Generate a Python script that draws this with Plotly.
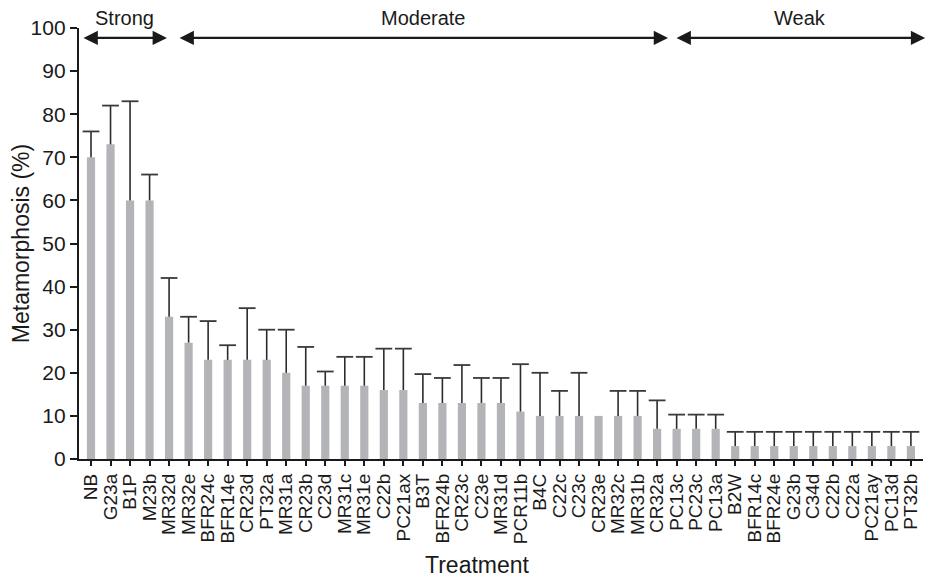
import plotly.graph_objects as go

treatments = ["NB", "G23a", "B1P", "M23b", "MR32d", "MR32e", "BFR24c", "BFR14e", "CR23d", "PT32a",
              "MR31a", "CR23b", "C23d", "MR31c", "MR31e", "C22b", "PC21ax", "B3T", "BFR24b", "CR23c",
              "C23e", "MR31d", "PCR11b", "B4C", "C22c", "C23c", "CR23e", "MR32c", "MR31b", "CR32a",
              "PC13c", "PC23c", "PC13a", "B2W", "BFR14c", "BFR24e", "G23b", "C34d", "C22b", "C22a",
              "PC21ay", "PC13d", "PT32b"]
metamorphosis = [70, 73, 60, 60, 33, 27, 23, 23, 23, 23,
                 20, 17, 17, 17, 17, 16, 16, 13, 13, 13,
                 13, 13, 11, 10, 10, 10, 10, 10, 10, 7,
                 7, 7, 7, 3, 3, 3, 3, 3, 3, 3,
                 3, 3, 3]
error_upper = [6, 9, 23, 6, 9, 6, 9, 3.4, 12, 7,
               10, 9, 3.3, 6.7, 6.7, 9.6, 9.6, 6.7, 5.8, 8.8,
               5.8, 5.8, 11, 10, 5.8, 10, 0, 5.8, 5.8, 6.6,
               3.3, 3.3, 3.3, 3.3, 3.3, 3.3, 3.3, 3.3, 3.3, 3.3,
               3.3, 3.3, 3.3]
y_ticks = [0, 10, 20, 30, 40, 50, 60, 70, 80, 90, 100]

# response groups: label, first index, last index
groups = [("Strong", 0, 3), ("Moderate", 4, 29), ("Weak", 30, 42)]
# arrow endpoints (layout positions, in x units)
arrow_spans = [(-0.46, 3.89), (4.46, 29.56), (29.92, 42.73)]

x_pos = list(range(len(treatments)))
ink = "#1a1a1a"
font_family = "Liberation Sans, Arial, sans-serif"

fig = go.Figure()
# bars with the upper error stem (no caps: caps drawn separately, top only)
fig.add_trace(go.Bar(
    x=x_pos, y=metamorphosis, width=0.42,
    marker=dict(color="#b3b4b8", line=dict(width=0)),
    error_y=dict(type="data", symmetric=False, array=error_upper,
                 arrayminus=[0] * len(error_upper),
                 color="#2b2b2b", thickness=1.6, width=0),
    showlegend=False, hoverinfo="skip",
))
# caps at the top of each error bar
cap_y = [v + e if e > 0 else None for v, e in zip(metamorphosis, error_upper)]
fig.add_trace(go.Scatter(
    x=x_pos, y=cap_y, mode="markers",
    marker=dict(symbol="line-ew-open", size=12, color="#3a3a3a",
                line=dict(color="#3a3a3a", width=1.8)),
    showlegend=False, hoverinfo="skip",
))

annotations = []
for (label, i0, i1), (xa, xb) in zip(groups, arrow_spans):
    annotations.append(dict(
        x=xb, y=97.7, ax=xa, ay=97.7, xref="x", yref="y", axref="x", ayref="y",
        text="", showarrow=True, arrowhead=2, arrowside="end+start",
        arrowsize=1.3, arrowwidth=2.2, arrowcolor=ink, standoff=0, startstandoff=0,
    ))
    annotations.append(dict(
        x=(xa + xb) / 2, y=1.0, xref="x", yref="paper", yshift=10,
        text=label, showarrow=False, yanchor="middle",
        font=dict(size=20, color=ink, family=font_family),
    ))

annotations.append(dict(
    x=0.4716, y=-0.246, xref="paper", yref="paper",
    text="Treatment", showarrow=False, yanchor="middle",
    font=dict(size=23, color=ink, family=font_family),
))

fig.update_layout(
    width=935, height=577,
    margin=dict(l=71, r=20, t=20, b=126),
    plot_bgcolor="white", paper_bgcolor="white",
    font=dict(family=font_family, color=ink),
    annotations=annotations,
    xaxis=dict(
        range=[-0.615, 42.62],
        tickmode="array", tickvals=x_pos, ticktext=treatments,
        tickangle=-90, tickfont=dict(size=19, color=ink),
        ticks="outside", ticklen=5, tickwidth=1.5, tickcolor=ink,
        showline=True, linecolor=ink, linewidth=2.4,
        showgrid=False, zeroline=False, fixedrange=True, automargin=False,
    ),
    yaxis=dict(
        range=[0, 100], tickmode="array", tickvals=y_ticks,
        tickfont=dict(size=21, color=ink),
        ticks="outside", ticklen=7, tickwidth=2, tickcolor=ink,
        showline=True, linecolor=ink, linewidth=2.4,
        showgrid=False, zeroline=False, automargin=False,
        title=dict(text="Metamorphosis (%)", font=dict(size=23, color=ink), standoff=0),
    ),
)

fig.write_html("out.html")
